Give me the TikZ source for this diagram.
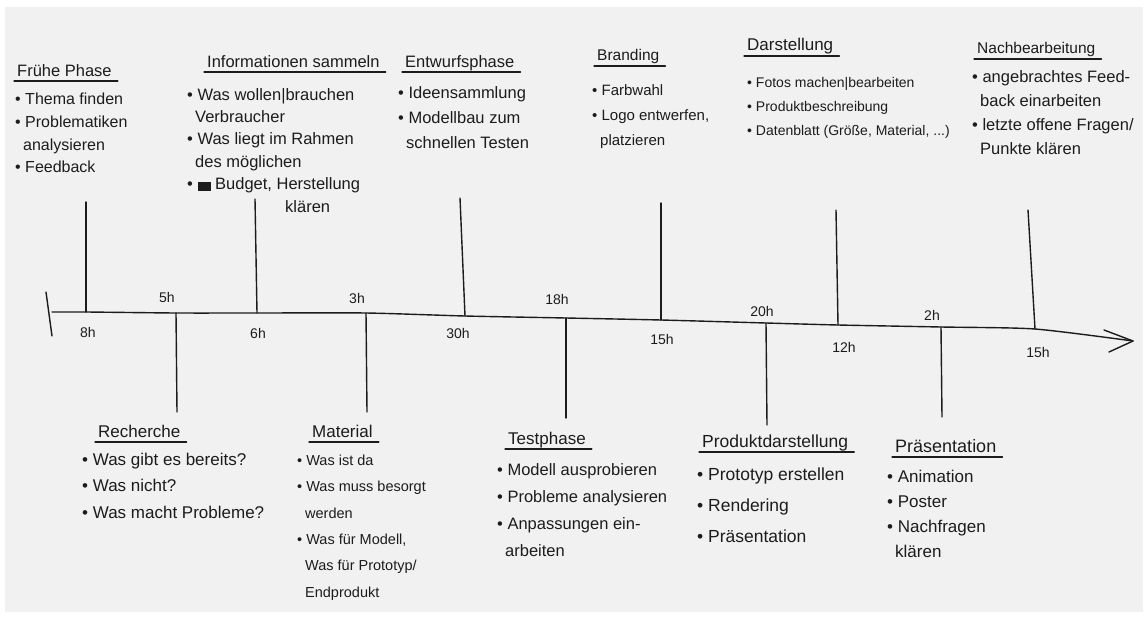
\documentclass[tikz,border=0pt]{standalone}
\usepackage{fontspec}
\setmainfont{Liberation Sans}
\usetikzlibrary{calc}
\definecolor{paper}{HTML}{F1F1F1}
\definecolor{ink}{HTML}{1C1C1C}
\tikzset{
  pen/.style={draw=ink, line width=1.4pt, line cap=round, line join=round},
  title/.style={anchor=base west, inner sep=0pt, text=ink},
  body/.style={anchor=north west, inner sep=0pt, text=ink, align=left},
  txt/.style 2 args={font=\fontsize{#1}{#2}\selectfont},
  hours/.style={inner sep=0pt, text=ink, font=\fontsize{14}{16}\selectfont},
  uline/.style={draw=ink, line width=1.1pt, line cap=round},
}
\newcommand{\cont}{\hspace*{8pt}}
\newcommand{\drawul}[1]{\draw[uline] ($(#1.base west)+(-3,5)$) -- ($(#1.base east)+(6,5)$);}
\begin{document}
\begin{tikzpicture}[x=1pt,y=-1pt]
\fill[white] (0,0) rectangle (1148,618);
\fill[paper] (5,7) rectangle (1143,612);
\useasboundingbox (0,0) rectangle (1148,618);

% ---------- timeline ----------
\coordinate (bar1) at (46,292);
\coordinate (bar2) at (52,336);
\coordinate (s)  at (52,312);
\coordinate (l1) at (86,312);
\coordinate (m1) at (176,313);
\coordinate (l2) at (257,313);
\coordinate (m2) at (366,313);
\coordinate (l3) at (465,316);
\coordinate (m3) at (566,318);
\coordinate (l4) at (661,320);
\coordinate (m4) at (766,323);
\coordinate (l5) at (838,325);
\coordinate (m5) at (941,327);
\coordinate (l6) at (1035,329);
\coordinate (tip) at (1133,341);
\coordinate (ah1) at (1104,330);
\coordinate (ah2) at (1109,352);

\draw[pen] (bar1) -- (bar2);
\draw[pen] plot[smooth, tension=0.4] coordinates {(s) (l1) (m1) (l2) (m2) (l3) (m3) (l4) (m4) (l5) (m5) (l6) (tip)};
\draw[pen] (ah1) -- (tip) -- (ah2);

% tick ends
\coordinate (t1) at (86,202);
\coordinate (t2) at (255,199);
\coordinate (t3) at (460,198);
\coordinate (t4) at (661,203);
\coordinate (t5) at (836,210);
\coordinate (t6) at (1028,210);
\coordinate (b1) at (177,412);
\coordinate (b2) at (367,412);
\coordinate (b3) at (566,418);
\coordinate (b4) at (767,425);
\coordinate (b5) at (942,417);
\foreach \a/\b in {l1/t1,l2/t2,l3/t3,l4/t4,l5/t5,l6/t6,m1/b1,m2/b2,m3/b3,m4/b4,m5/b5}
  \draw[pen] (\a) -- (\b);

% ---------- hours ----------
\node[hours] (h1) at (88,332) {8h};
\node[hours] (h2) at (167,297) {5h};
\node[hours] (h3) at (258,333) {6h};
\node[hours] (h4) at (357,298) {3h};
\node[hours] (h5) at (458,333) {30h};
\node[hours] (h6) at (557,299) {18h};
\node[hours] (h7) at (662,339) {15h};
\node[hours] (h8) at (762,311) {20h};
\node[hours] (h9) at (844,347) {12h};
\node[hours] (h10) at (932,315) {2h};
\node[hours] (h11) at (1038,352) {15h};

% ---------- upper phases ----------
\node[title, txt={16.5}{20}] (fp) at (17,76) {Frühe Phase};
\drawul{fp}
\node[body, txt={16}{22.7}] (fpb) at (15,93)
  {• Thema finden\\• Problematiken\\\cont analysieren\\• Feedback};

\node[title, txt={16.5}{20}] (is) at (207,67) {Informationen sammeln};
\drawul{is}
\node[body, txt={16.5}{22.4}] (isb) at (187,88)
  {• Was wollen|brauchen\\\cont Verbraucher\\• Was liegt im Rahmen\\\cont des möglichen\\
   • \rule[-1pt]{13pt}{9pt} Budget, Herstellung\\\hspace*{98pt}klären};

\node[title, txt={16.5}{20}] (ep) at (405,67) {Entwurfsphase};
\drawul{ep}
\node[body, txt={16.5}{25}] (epb) at (398,86)
  {• Ideensammlung\\• Modellbau zum\\\cont schnellen Testen};

\node[title, txt={15.5}{19}] (br) at (597,61) {Branding};
\drawul{br}
\node[body, txt={15}{25}] (brb) at (592,84)
  {• Farbwahl\\• Logo entwerfen,\\\cont platzieren};

\node[title, txt={17}{20}] (da) at (747,51) {Darstellung};
\drawul{da}
\node[body, txt={14}{24}] (dab) at (747,77)
  {• Fotos machen|bearbeiten\\• Produktbeschreibung\\• Datenblatt (Größe, Material, ...)};

\node[title, txt={15.5}{19}] (nb) at (977,54) {Nachbearbeitung};
\drawul{nb}
\node[body, txt={16.5}{24}] (nbb) at (972,70)
  {• angebrachtes Feed-\\\cont back einarbeiten\\• letzte offene Fragen/\\\cont Punkte klären};

% ---------- lower phases ----------
\node[title, txt={17}{20}] (re) at (98,437) {Recherche};
\drawul{re}
\node[body, txt={17}{26.5}] (reb) at (82,452.6)
  {• Was gibt es bereits?\\• Was nicht?\\• Was macht Probleme?};

\node[title, txt={17}{20}] (ma) at (312,437) {Material};
\drawul{ma}
\node[body, txt={14.5}{26.4}] (mab) at (297,454.5)
  {• Was ist da\\• Was muss besorgt\\\cont werden\\• Was für Modell,\\\cont Was für Prototyp/\\\cont Endprodukt};

\node[title, txt={17}{20}] (te) at (508,444) {Testphase};
\drawul{te}
\node[body, txt={16.5}{27}] (teb) at (497,463)
  {• Modell ausprobieren\\• Probleme analysieren\\• Anpassungen ein-\\\cont arbeiten};

\node[title, txt={17.5}{20}] (pd) at (702,447) {Produktdarstellung};
\drawul{pd}
\node[body, txt={17.5}{31}] (pdb) at (697,467.2)
  {• Prototyp erstellen\\• Rendering\\• Präsentation};

\node[title, txt={18}{21}] (pr) at (895,452) {Präsentation};
\drawul{pr}
\node[body, txt={17}{25}] (prb) at (887,469.6)
  {• Animation\\• Poster\\• Nachfragen\\\cont klären};
\end{tikzpicture}
\end{document}
